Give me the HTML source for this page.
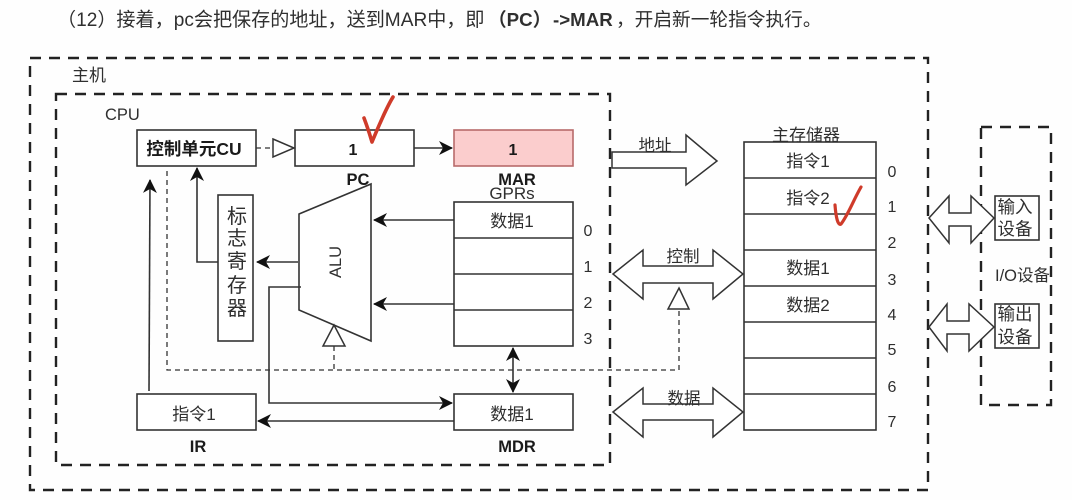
<!DOCTYPE html>
<html><head><meta charset="utf-8"><style>
html,body{margin:0;padding:0;background:#fff}
svg{display:block;filter:blur(.35px)}
text{font-family:"Liberation Sans","Noto Sans CJK SC",sans-serif;fill:#2f2f2f}
.b{font-weight:bold;fill:#1a1a1a}
</style></head><body>
<svg width="1072" height="500" viewBox="0 0 1072 500" xmlns="http://www.w3.org/2000/svg">
<defs>
<marker id="a" markerWidth="16" markerHeight="16" refX="13" refY="7" orient="auto-start-reverse" markerUnits="userSpaceOnUse"><path d="M0 0L14 7L0 14L4 7Z" fill="#111"/></marker>
</defs>
<rect width="1072" height="500" fill="#fefefe"/>
<text x="57" y="26" font-size="19.1">（12）接着，pc会把保存的地址，送到MAR中，即<tspan x="488" font-size="18.7" font-weight="bold">（PC）</tspan><tspan x="553" font-size="18.7" font-weight="bold">-&gt;MAR</tspan><tspan x="616" font-size="18.7">，开启新一轮指令执行。</tspan></text>

<g fill="none" stroke="#222" stroke-width="2.4" stroke-dasharray="11 8">
<rect x="30" y="58" width="898" height="432"/>
<rect x="56" y="94" width="554" height="371"/>
<rect x="981" y="127" width="70" height="278"/>
</g>
<text x="72" y="81" font-size="17">主机</text>
<text x="105" y="120" font-size="16.5">CPU</text>

<g fill="#fff" stroke="#333" stroke-width="1.6">
<rect x="137" y="130" width="119" height="36"/>
<rect x="295" y="130" width="119" height="36"/>
<rect x="218" y="195" width="35" height="146"/>
<path d="M299 214L371 184V341L299 310Z"/>
<rect x="454" y="202" width="119" height="144"/>
<path d="M454 238H573M454 274H573M454 310H573" fill="none"/>
<rect x="137" y="394" width="119" height="36"/>
<rect x="454" y="394" width="119" height="36"/>
<rect x="744" y="142" width="132" height="288"/>
<path d="M744 178H876M744 214H876M744 250H876M744 286H876M744 322H876M744 358H876M744 394H876" fill="none"/>
<rect x="995" y="196" width="44" height="44"/>
<rect x="995" y="304" width="44" height="44"/>
</g>
<rect x="454" y="130" width="119" height="36" fill="#fbcdcd" stroke="#b86a6a" stroke-width="1.6"/>

<text x="194" y="155" font-size="17.5" font-weight="bold" text-anchor="middle" class="b">控制单元CU</text>
<text x="353" y="155" font-size="16" font-weight="bold" text-anchor="middle" class="b">1</text>
<text x="513" y="155" font-size="16" font-weight="bold" text-anchor="middle" class="b">1</text>
<text x="358" y="185" font-size="16.5" font-weight="bold" class="b" text-anchor="middle">PC</text>
<text x="517" y="185" font-size="16.5" font-weight="bold" class="b" text-anchor="middle">MAR</text>
<text x="512" y="199" font-size="17" text-anchor="middle">GPRs</text>
<text x="194" y="420" font-size="17" text-anchor="middle">指令1</text>
<text x="512" y="420" font-size="17" text-anchor="middle">数据1</text>
<text x="512" y="227" font-size="17" text-anchor="middle">数据1</text>
<text x="198" y="452" font-size="16.5" font-weight="bold" class="b" text-anchor="middle">IR</text>
<text x="517" y="452" font-size="16.5" font-weight="bold" class="b" text-anchor="middle">MDR</text>
<text x="237" y="223" font-size="20" text-anchor="middle">标</text>
<text x="237" y="245" font-size="20" text-anchor="middle">志</text>
<text x="237" y="268" font-size="20" text-anchor="middle">寄</text>
<text x="237" y="292" font-size="20" text-anchor="middle">存</text>
<text x="237" y="315" font-size="20" text-anchor="middle">器</text>
<text transform="translate(341 262) rotate(-90)" font-size="16.5" text-anchor="middle">ALU</text>
<g font-size="16" text-anchor="middle">
<text x="588" y="236">0</text><text x="588" y="272">1</text><text x="588" y="308">2</text><text x="588" y="344">3</text>
<text x="892" y="177">0</text><text x="892" y="212">1</text><text x="892" y="248">2</text><text x="892" y="285">3</text><text x="892" y="320">4</text><text x="892" y="355">5</text><text x="892" y="392">6</text><text x="892" y="427">7</text>
</g>
<text x="806" y="141" font-size="17" text-anchor="middle">主存储器</text>
<text x="808" y="167" font-size="17" text-anchor="middle">指令1</text>
<text x="808" y="204" font-size="17" text-anchor="middle">指令2</text>
<text x="808" y="274" font-size="17" text-anchor="middle">数据1</text>
<text x="808" y="311" font-size="17" text-anchor="middle">数据2</text>
<text x="1015" y="213" font-size="17.5" text-anchor="middle">输入</text>
<text x="1015" y="235" font-size="17.5" text-anchor="middle">设备</text>
<text x="1015" y="320" font-size="17.5" text-anchor="middle">输出</text>
<text x="1015" y="343" font-size="17.5" text-anchor="middle">设备</text>
<text x="995" y="281" font-size="16.5">I/O设备</text>

<g fill="none" stroke="#333" stroke-width="1.6">
<path d="M414 148H452" marker-end="url(#a)"/>
<path d="M454 220H374" marker-end="url(#a)"/>
<path d="M454 304H374" marker-end="url(#a)"/>
<path d="M298 262H257" marker-end="url(#a)"/>
<path d="M218 262H197V168" marker-end="url(#a)"/>
<path d="M149 391L150 180" marker-end="url(#a)"/>
<path d="M301 287H269V403H452" marker-end="url(#a)"/>
<path d="M454 421H258" marker-end="url(#a)"/>
<path d="M513 348V392" marker-start="url(#a)" marker-end="url(#a)"/>
</g>
<g fill="none" stroke="#333" stroke-width="1.3" stroke-dasharray="5 4">
<path d="M256 148H272"/>
<path d="M167 171V370H679V310"/>
<path d="M334 346V370"/>
</g>
<g fill="#fff" stroke="#333" stroke-width="1.5">
<path d="M273 139L294 148L273 157Z"/>
<path d="M334 325L345 346H323Z"/>
<path d="M679 288L689 309H668Z"/>
<path d="M612 152H686V135L717 161L686 185V168H612Z"/>
<path d="M613 274L643 250V266H713V250L743 274L713 299V283H643V299Z"/>
<path d="M613 412L643 388V404H713V388L743 412L713 437V420H643V437Z"/>
<path d="M929 218L949 196V213H971V196L994 218L971 243V226H949V243Z"/>
<path d="M929 327L947 304V321H969V304L994 327L969 351V334H947V351Z"/>
</g>
<text x="655" y="151" font-size="16.5" text-anchor="middle">地址</text>
<text x="683" y="262" font-size="16.5" text-anchor="middle">控制</text>
<text x="684" y="404" font-size="16.5" text-anchor="middle">数据</text>

<g fill="none" stroke="#cf3b2a" stroke-linecap="round" stroke-linejoin="round">
<path d="M364 118C367 126 370 135 372 142C378 128 385 110 393 97" stroke-width="3.6"/>
<path d="M835 205C836 218 838 226 841 224C848 215 853 201 861 187" stroke-width="3.2"/>
</g>
</svg>
</body></html>
